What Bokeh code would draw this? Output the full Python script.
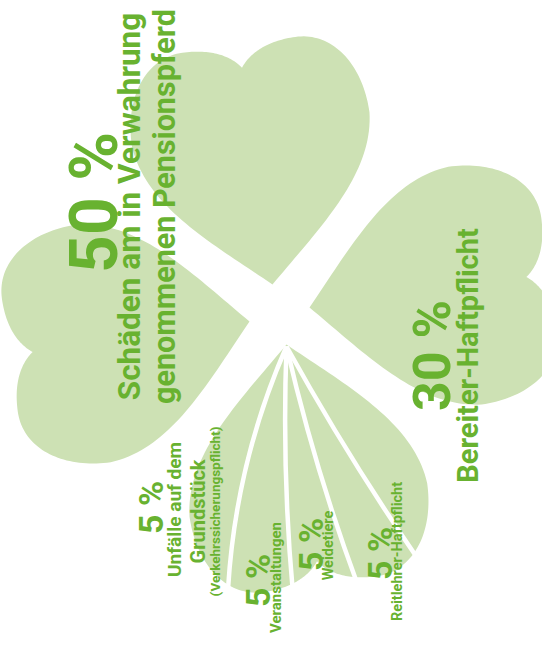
import numpy as np
from bokeh.plotting import figure
from bokeh.models import Range1d, ColumnDataSource
from bokeh.embed import file_html
from bokeh.resources import INLINE
from bokeh.core.properties import value

# ---------------- data ----------------
categories = [
    "Schäden am in Verwahrung genommenen Pensionspferd",
    "Bereiter-Haftpflicht",
    "Unfälle auf dem Grundstück (Verkehrssicherungspflicht)",
    "Veranstaltungen",
    "Weidetiere",
    "Reitlehrer-Haftpflicht",
]
shares = [50, 30, 5, 5, 5, 5]
label_lines = [
    ["Schäden am in Verwahrung", "genommenen Pensionspferd"],
    ["Bereiter-Haftpflicht"],
    ["Unfälle auf dem", "Grundstück", "(Verkehrssicherungspflicht)"],
    ["Veranstaltungen"],
    ["Weidetiere"],
    ["Reitlehrer-Haftpflicht"],
]
# share slices that sit in the bottom (fan) leaf
fan_shares = shares[2:]

# ---------------- style / layout ----------------
LEAF = "#cde1b4"
GREEN = "#68b230"
FONT = "Roboto"
CENTER = np.array([287.0, 322.0])
TIP_OFFSET = np.array([-7.0, -30.0])
TILT = np.deg2rad(8.0)

# per category: (percent baseline x, [center y per text], percent size, [(line baseline x, size)...])
layout = [
    (102, [210, 214, 214], 66, [(137, 31.5), (172, 30.5)]),
    (440, [363, 363], 52, [(475, 29)]),
    (158, [515, 517, 519, 519], 34, [(182, 19), (205, 20), (222, 13.5)]),
    (265, [588, 585], 34, [(283, 15)]),
    (318, [552, 553], 34, [(336, 14.5)]),
    (387, [561, 559], 34, [(405, 14.5)]),
]


def bezier(p0, p1, p2, p3, n=40):
    t = np.linspace(0, 1, n)[:, None]
    p0, p1, p2, p3 = map(np.array, (p0, p1, p2, p3))
    return ((1 - t) ** 3) * p0 + 3 * ((1 - t) ** 2) * t * p1 + 3 * (1 - t) * t ** 2 * p2 + t ** 3 * p3


def heart_outline():
    segs = [
        ((0, 0), (55, 50), (115, 95), (120, 157)),
        ((120, 157), (120, 205), (95, 242), (57, 242)),
        ((57, 242), (25, 242), (8, 230), (0, 219)),
    ]
    right = np.vstack([bezier(*s) for s in segs])
    left = right[::-1].copy()
    left[:, 0] *= -1
    return np.vstack([right, left])


def rot(vec, k):
    v = np.array(vec, dtype=float)
    for _ in range(k):
        v = np.array([-v[1], v[0]])
    return v


uv = heart_outline()
a0 = np.array([-np.sin(TILT), -np.cos(TILT)])
b0 = np.array([np.cos(TILT), -np.sin(TILT)])

xs, ys = [], []
for k in range(4):
    tip = CENTER + rot(TIP_OFFSET, k)
    a = rot(a0, k)
    b = rot(b0, k)
    pts = tip[None, :] + uv[:, :1] * b[None, :] + uv[:, 1:] * a[None, :]
    xs.append(list(pts[:, 0]))
    ys.append(list(pts[:, 1]))

p = figure(
    width=542, height=633,
    x_range=Range1d(8, 550), y_range=Range1d(641, 8),
    output_backend="svg", toolbar_location=None,
    min_border=0, background_fill_color="white", border_fill_color="white",
)
p.axis.visible = False
p.grid.visible = False
p.outline_line_color = None

p.patches(xs, ys, fill_color=LEAF, line_color=None)

# fan lines in the bottom leaf, spacing derived from slice shares
bottom_tip = CENTER + rot(TIP_OFFSET, 2)
deg_per_pct = 3.0
cum = np.cumsum([0] + fan_shares[:-1])
angles = np.deg2rad(-13.5 + cum * deg_per_pct)
R = 250.0
bows = np.array([11.0, 4.0, 4.0, 3.0])
x0 = np.full(len(angles), bottom_tip[0])
y0 = np.full(len(angles), bottom_tip[1] + 2)
x1 = bottom_tip[0] + R * np.sin(angles)
y1 = bottom_tip[1] + R * np.cos(angles)
nx, ny = -np.cos(angles), np.sin(angles)
cx = (x0 + x1) / 2 + 2 * bows * nx
cy = (y0 + y1) / 2 + 2 * bows * ny
p.quadratic(x0=x0, y0=y0, x1=x1, y1=y1, cx=cx, cy=cy, line_color="white", line_width=4.5)

# texts
tx, ty, tt, ts = [], [], [], []
for share, lines, (px, cys, psize, line_pos) in zip(shares, label_lines, layout):
    tx.append(px); ty.append(cys[0]); tt.append(f"{share} %"); ts.append(f"{psize}px")
    for line, (lx, lsize), cy_ in zip(lines, line_pos, cys[1:]):
        tx.append(lx); ty.append(cy_); tt.append(line); ts.append(f"{lsize}px")

src = ColumnDataSource(dict(x=tx, y=ty, text=tt, size=ts))
p.text(x="x", y="y", text="text", source=src, angle=np.pi / 2,
       text_font=value(FONT), text_font_style="bold", text_font_size="size",
       text_color=GREEN, text_align="center", text_baseline="alphabetic")

open("out.html", "w").write(file_html(p, INLINE))
